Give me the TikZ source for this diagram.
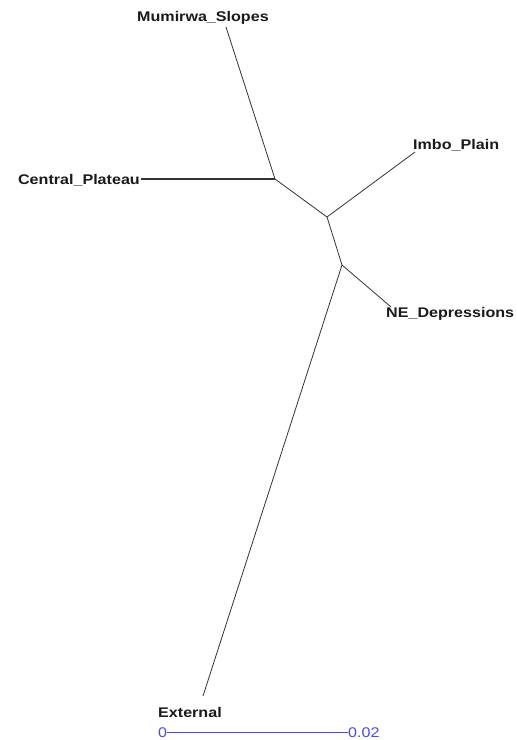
\documentclass[tikz,border=0pt]{standalone}
\usepackage{fontspec}
\setmainfont{Liberation Sans}[FakeStretch=1.15]
\usepackage{tikz}
\definecolor{branchgray}{HTML}{333333}
\definecolor{labelink}{HTML}{1A1A1A}
\definecolor{scaleblue}{HTML}{4A4AF0}
\tikzset{
  leaf/.style={inner sep=0pt, font=\bfseries\fontsize{14}{16}\selectfont, text=labelink},
  scalelbl/.style={inner sep=0pt, font=\fontsize{14}{16}\selectfont, text=scaleblue},
  branch/.style={draw=branchgray, line width=0.8pt},
  scalebar/.style={draw=scaleblue, line width=1pt}
}
\begin{document}
\begin{tikzpicture}[x=1pt, y=-1pt]
  \useasboundingbox (0,0) rectangle (517,740);
  % internal nodes of the tree
  \coordinate (n1) at (275,179);
  \coordinate (n2) at (327,217);
  \coordinate (n3) at (342,265);
  % leaf tips
  \coordinate (tMum) at (226,27);
  \coordinate (tCen) at (141,179);
  \coordinate (tImb) at (415,152);
  \coordinate (tNE) at (391,307);
  \coordinate (tExt) at (203,696);
  % labels
  \node[leaf, anchor=base west] (mum) at (137,21) {Mumirwa\_Slopes};
  \node[leaf, anchor=base east] (cen) at (140,184) {Central\_Plateau};
  \node[leaf, anchor=base west] (imb) at (413,149) {Imbo\_Plain};
  \node[leaf, anchor=base west] (ne) at (386,317) {NE\_Depressions};
  \node[leaf, anchor=base west] (ext) at (158,717) {External};
  % branches
  \draw[branch] (tMum) -- (n1);
  \draw[branch, line width=1.3pt] (tCen) -- (n1);
  \draw[branch] (n1) -- (n2);
  \draw[branch] (n2) -- (tImb);
  \draw[branch] (n2) -- (n3);
  \draw[branch] (n3) -- (tNE);
  \draw[branch] (n3) -- (tExt);
  % scale bar
  \node[scalelbl, anchor=base west] (s0) at (158,737) {0};
  \node[scalelbl, anchor=base west] (s1) at (348,737) {0.02};
  \draw[scalebar] (s0.east) -- (s1.west);
\end{tikzpicture}
\end{document}
